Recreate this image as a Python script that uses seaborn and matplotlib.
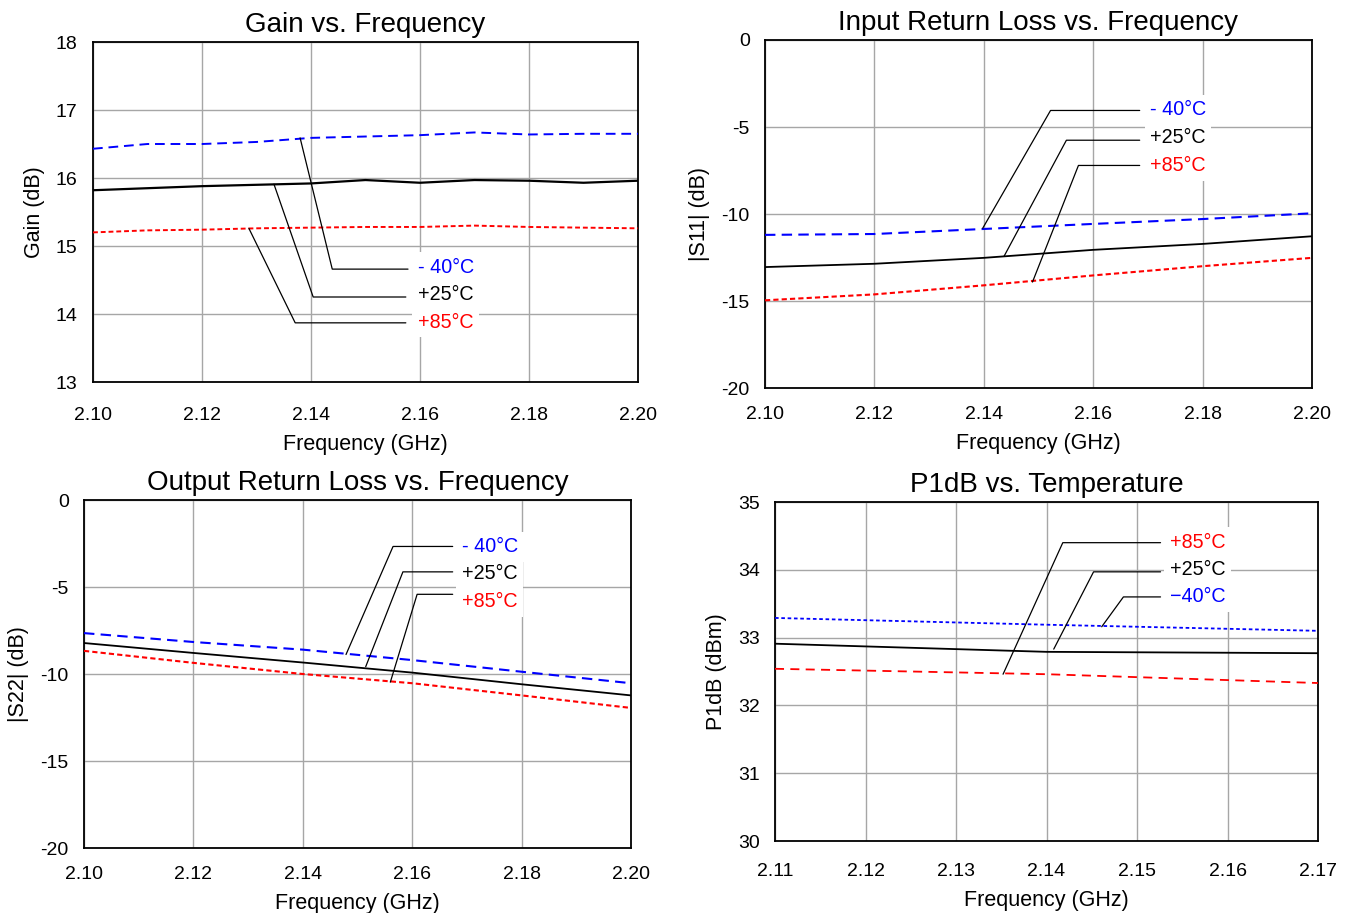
import numpy as np
import pandas as pd
import matplotlib
matplotlib.use("Agg")
import matplotlib.pyplot as plt
import seaborn as sns

sns.set_theme(style="white")
plt.rcParams['font.family'] = ['Liberation Sans', 'DejaVu Sans']
for k in ["text.color", "axes.labelcolor", "xtick.color", "ytick.color"]:
    plt.rcParams[k] = "black"

# ---------------- data ----------------
freq_gain = [2.10, 2.11, 2.12, 2.13, 2.14, 2.15, 2.16, 2.17, 2.18, 2.19, 2.20]
gain_m40 = [16.43, 16.50, 16.50, 16.53, 16.59, 16.61, 16.63, 16.67, 16.64, 16.65, 16.65]
gain_p25 = [15.82, 15.85, 15.88, 15.90, 15.92, 15.97, 15.93, 15.97, 15.96, 15.93, 15.96]
gain_p85 = [15.20, 15.23, 15.24, 15.26, 15.27, 15.28, 15.28, 15.30, 15.28, 15.27, 15.26]

freq_rl = [2.10, 2.12, 2.14, 2.16, 2.18, 2.20]
s11_m40 = [-11.20, -11.15, -10.86, -10.57, -10.29, -9.96]
s11_p25 = [-13.05, -12.86, -12.52, -12.06, -11.72, -11.28]
s11_p85 = [-14.96, -14.62, -14.10, -13.53, -13.00, -12.52]

s22_m40 = [-7.65, -8.16, -8.60, -9.20, -9.87, -10.53]
s22_p25 = [-8.22, -8.79, -9.34, -9.92, -10.59, -11.23]
s22_p85 = [-8.67, -9.36, -10.00, -10.53, -11.23, -11.95]

freq_p1 = [2.11, 2.14, 2.17]
p1_m40 = [33.29, 33.19, 33.10]
p1_p25 = [32.91, 32.79, 32.77]
p1_p85 = [32.54, 32.46, 32.33]

labels_std = ["- 40°C", "+25°C", "+85°C"]
labels_p1 = ["+85°C", "+25°C", "\u221240°C"]

BLUE = "#0000FF"
RED = "#FF0000"
BLACK = "#000000"

# callout geometry (data coords): point on curve, elbow, end of horizontal, text pos
gain_callouts = [  # (pt_x, pt_y, elb_x, elb_y, end_x, txt_x, txt_y)
    (2.1380, 16.59, 2.1439, 14.66, 2.1578, 2.1596, 14.69),
    (2.1332, 15.91, 2.1404, 14.25, 2.1574, 2.1596, 14.28),
    (2.1286, 15.26, 2.1371, 13.87, 2.1574, 2.1596, 13.88),
]
s11_callouts = [
    (2.1398, -10.82, 2.1522, -4.05, 2.1685, 2.1704, -4.02),
    (2.1437, -12.43, 2.1551, -5.76, 2.1685, 2.1704, -5.63),
    (2.1489, -13.91, 2.1573, -7.21, 2.1685, 2.1704, -7.24),
]
s22_callouts = [
    (2.1479, -8.88, 2.1565, -2.67, 2.1674, 2.1691, -2.68),
    (2.1515, -9.58, 2.1583, -4.13, 2.1674, 2.1691, -4.25),
    (2.1560, -10.47, 2.1609, -5.42, 2.1674, 2.1691, -5.84),
]
p1_callouts = [
    (2.1352, 32.46, 2.1418, 34.40, 2.1526, 2.1536, 34.41),
    (2.1408, 32.83, 2.1452, 33.97, 2.1526, 2.1536, 34.00),
    (2.1461, 33.16, 2.1485, 33.60, 2.1526, 2.1536, 33.60),
]

W, H = 1350, 913
fig = plt.figure(figsize=(W / 100, H / 100), dpi=100)
fig.patch.set_facecolor("white")


def px_axes(l, t, r, b):
    return fig.add_axes([l / W, (H - b) / H, (r - l) / W, (b - t) / H])


TICK_FS = 14
LABEL_FS = 15.5
TITLE_FS = 20
NOTE_FS = 14.2


def style_axes(ax, title, ylabel, xlim, ylim, xticks, yticks, xfmt, yfmt, xpad):
    ax.set_xlim(xlim)
    ax.set_ylim(ylim)
    ax.set_xticks(xticks)
    ax.set_yticks(yticks)
    ax.set_xticklabels([xfmt.format(v) for v in xticks], fontsize=TICK_FS, color="black")
    ax.set_yticklabels([yfmt.format(v) for v in yticks], fontsize=TICK_FS, color="black")
    ax.tick_params(axis="both", length=0)
    ax.tick_params(axis="x", pad=xpad)
    ax.tick_params(axis="y", pad=11)
    ax.grid(True, color="#a6a6a6", linewidth=1.0)
    ax.set_axisbelow(True)
    for s in ax.spines.values():
        s.set_color("black")
        s.set_linewidth(1.3)
        s.set_visible(True)
    ax.set_title(title, fontsize=TITLE_FS, pad=7, color="black")
    ax.set_xlabel("Frequency (GHz)", fontsize=LABEL_FS, labelpad=7, color="black")
    ax.set_ylabel(ylabel, fontsize=LABEL_FS, labelpad=8, color="black")


def draw_series(ax, x, ys, colors, styles, widths):
    for y, c, ls, lw in zip(ys, colors, styles, widths):
        df = pd.DataFrame({"x": x, "y": y})
        sns.lineplot(data=df, x="x", y="y", ax=ax, color=c, linestyle=ls,
                     linewidth=lw, legend=False, zorder=3)
    ax.set_xlabel("")
    ax.set_ylabel("")


def draw_callouts(ax, callouts, labels, colors):
    for (px_, py_, ex, ey, endx, tx, ty), lab, c in zip(callouts, labels, colors):
        ax.plot([px_, ex, endx], [py_, ey, ey], color="black", linewidth=0.9, zorder=4)
        ax.text(tx, ty, lab, color=c, fontsize=NOTE_FS, ha="left", va="center", zorder=5,
                bbox=dict(facecolor="white", edgecolor="none", pad=4.0))


LONG_DASH = (0, (5, 3))
SHORT_DASH = (0, (2.5, 1.5))
FREQ_TICKS = [2.10, 2.12, 2.14, 2.16, 2.18, 2.20]

# ---- Panel 1: Gain ----
ax1 = px_axes(93, 42, 638, 382)
draw_series(ax1, freq_gain, [gain_m40, gain_p25, gain_p85], [BLUE, BLACK, RED],
            [LONG_DASH, "-", SHORT_DASH], [1.4, 1.6, 1.4])
style_axes(ax1, "Gain vs. Frequency", "Gain (dB)", (2.10, 2.20), (13, 18),
           FREQ_TICKS, [13, 14, 15, 16, 17, 18], "{:.2f}", "{:.0f}", 18)
draw_callouts(ax1, gain_callouts, labels_std, [BLUE, BLACK, RED])

# ---- Panel 2: S11 ----
ax2 = px_axes(765, 40, 1312, 388)
draw_series(ax2, freq_rl, [s11_m40, s11_p25, s11_p85], [BLUE, BLACK, RED],
            [LONG_DASH, "-", SHORT_DASH], [1.5, 1.3, 1.5])
style_axes(ax2, "Input Return Loss vs. Frequency", "|S11| (dB)", (2.10, 2.20), (-20, 0),
           FREQ_TICKS, [-20, -15, -10, -5, 0], "{:.2f}", "{:.0f}", 13)
draw_callouts(ax2, s11_callouts, labels_std, [BLUE, BLACK, RED])

# ---- Panel 3: S22 ----
ax3 = px_axes(84, 500, 631, 848)
draw_series(ax3, freq_rl, [s22_m40, s22_p25, s22_p85], [BLUE, BLACK, RED],
            [LONG_DASH, "-", SHORT_DASH], [1.5, 1.3, 1.5])
style_axes(ax3, "Output Return Loss vs. Frequency", "|S22| (dB)", (2.10, 2.20), (-20, 0),
           FREQ_TICKS, [-20, -15, -10, -5, 0], "{:.2f}", "{:.0f}", 13)
draw_callouts(ax3, s22_callouts, labels_std, [BLUE, BLACK, RED])

# ---- Panel 4: P1dB ----
ax4 = px_axes(775, 502, 1318, 841)
draw_series(ax4, freq_p1, [p1_p85, p1_p25, p1_m40], [RED, BLACK, BLUE],
            [(0, (5, 3.5)), "-", (0, (2, 1.5))], [1.3, 1.3, 1.3])
style_axes(ax4, "P1dB vs. Temperature", "P1dB (dBm)", (2.11, 2.17), (30, 35),
           [2.11, 2.12, 2.13, 2.14, 2.15, 2.16, 2.17], [30, 31, 32, 33, 34, 35], "{:.2f}", "{:.0f}", 16)
draw_callouts(ax4, p1_callouts, labels_p1, [RED, BLACK, BLUE])

fig.savefig("out.png", dpi=100, facecolor="white")
